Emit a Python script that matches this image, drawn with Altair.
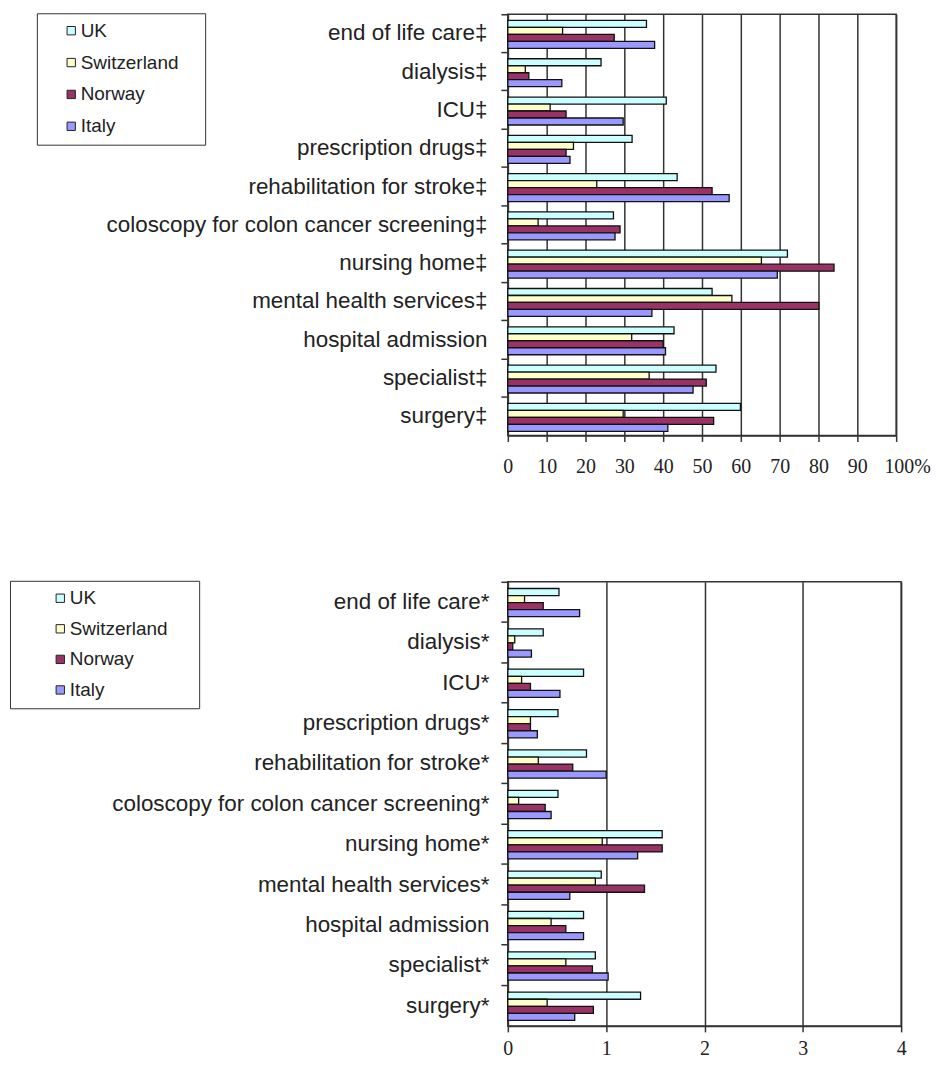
import altair as alt
import pandas as pd

categories = ["end of life care", "dialysis", "ICU", "prescription drugs",
              "rehabilitation for stroke", "coloscopy for colon cancer screening",
              "nursing home", "mental health services", "hospital admission",
              "specialist", "surgery"]
top_marks = ["‡", "‡", "‡", "‡", "‡", "‡", "‡", "‡", "", "‡", "‡"]
bottom_marks = ["*", "*", "*", "*", "*", "*", "*", "*", "", "*", "*"]
countries = ["UK", "Switzerland", "Norway", "Italy"]
colors = ["#ccffff", "#ffffcc", "#993366", "#9999ff"]

pct_uk = [35.7, 24.0, 40.8, 32.0, 43.6, 27.2, 72.0, 52.6, 42.8, 53.6, 59.9]
pct_ch = [14.1, 4.5, 10.9, 16.9, 22.9, 7.8, 65.3, 57.7, 31.9, 36.4, 29.7]
pct_no = [27.4, 5.4, 15.0, 15.0, 52.6, 28.9, 84.0, 80.1, 40.0, 51.1, 53.0]
pct_it = [37.8, 13.9, 29.7, 16.0, 57.0, 27.6, 69.4, 37.1, 40.6, 47.7, 41.2]

rate_uk = [0.52, 0.36, 0.77, 0.51, 0.80, 0.51, 1.57, 0.95, 0.77, 0.89, 1.35]
rate_ch = [0.17, 0.07, 0.14, 0.23, 0.31, 0.11, 0.96, 0.89, 0.44, 0.59, 0.40]
rate_no = [0.36, 0.05, 0.23, 0.23, 0.66, 0.38, 1.57, 1.39, 0.59, 0.86, 0.87]
rate_it = [0.73, 0.24, 0.53, 0.30, 1.00, 0.44, 1.32, 0.63, 0.77, 1.02, 0.68]

pct_ticks = [0, 10, 20, 30, 40, 50, 60, 70, 80, 90, 100]
rate_ticks = [0, 1, 2, 3, 4]


def frame(marks, series):
    labels = [c + m for c, m in zip(categories, marks)]
    rows = []
    for country, vals in zip(countries, series):
        for lab, v in zip(labels, vals):
            rows.append({"label": lab, "country": country, "value": v})
    return pd.DataFrame(rows), labels


def panel(df, labels, xmax, ticks, width, height, pad_outer, align,
          lx, ly, sym_off, lab_off, row_pad, right_pad, xlabel_pad, ylabel_pad,
          last_label_expr=None):
    xaxis = dict(values=ticks, title=None, grid=True, gridColor="#333333",
                 gridWidth=1.5, tickColor="#333333", tickWidth=1.5, tickSize=6,
                 domainColor="#333333", domainWidth=1.5, labelOverlap=False,
                 labelFlush=False,
                 labelFont="Liberation Serif", labelFontSize=20,
                 labelColor="#222222", labelPadding=xlabel_pad)
    if last_label_expr:
        xaxis["labelExpr"] = last_label_expr
        xaxis["labelOffset"] = {"condition": {"test": f"datum.value == {xmax}", "value": 11}, "value": 0}
    return alt.Chart(df).mark_bar(stroke="#111111", strokeWidth=1.3).encode(
        x=alt.X("value:Q", scale=alt.Scale(domain=[0, xmax], nice=False, zero=True),
                axis=alt.Axis(**xaxis)),
        y=alt.Y("label:N", sort=labels,
                scale=alt.Scale(paddingInner=0, paddingOuter=0),
                axis=alt.Axis(title=None, bandPosition=0,
                              tickSize=7, tickColor="#333333", tickWidth=1.5,
                              domainColor="#333333", domainWidth=1.5,
                              labelFont="Liberation Sans", labelFontSize=22.5,
                              labelColor="#222222", labelPadding=ylabel_pad,
                              labelLimit=600)),
        yOffset=alt.YOffset("country:N", sort=countries,
                            scale=alt.Scale(paddingInner=0, paddingOuter=pad_outer, align=align)),
        fill=alt.Fill("country:N", sort=countries,
                      scale=alt.Scale(domain=countries, range=colors),
                      legend=alt.Legend(orient="none", legendX=lx, legendY=ly,
                                        title="\u00a0", titleOrient="right",
                                        titleFontSize=2, titlePadding=right_pad,
                                        strokeColor="#333333", fillColor="white",
                                        padding=8, symbolType="square", symbolSize=70,
                                        symbolStrokeColor="#222222", symbolStrokeWidth=1,
                                        symbolOffset=sym_off, labelOffset=lab_off,
                                        labelFont="Liberation Sans", labelFontSize=19,
                                        labelColor="#222222", rowPadding=row_pad)),
    ).properties(width=width, height=height)


df_top, lab_top = frame(top_marks, [pct_uk, pct_ch, pct_no, pct_it])
df_bot, lab_bot = frame(bottom_marks, [rate_uk, rate_ch, rate_no, rate_it])

top = panel(df_top, lab_top, 100, pct_ticks, 390, 423, 0.74, 0.6,
            -473, -1, 17, 0, 12, 19, 15, 14,
            last_label_expr="datum.value == 100 ? '100%' : datum.label")
bottom = panel(df_bot, lab_bot, 4, rate_ticks, 395, 446, 0.86, 0.55,
               -500, -1, 33, 0, 10.7, 24, 7, 12)

chart = alt.vconcat(top, bottom, spacing=102).resolve_scale(
    x="independent", y="independent", fill="independent", yOffset="independent"
).properties(padding={"left": 0, "top": 1, "right": 0, "bottom": 5}).configure_view(
    stroke="#333333", strokeWidth=1.5
)

chart.save("out.html", embed_options={"renderer": "svg", "actions": False})
